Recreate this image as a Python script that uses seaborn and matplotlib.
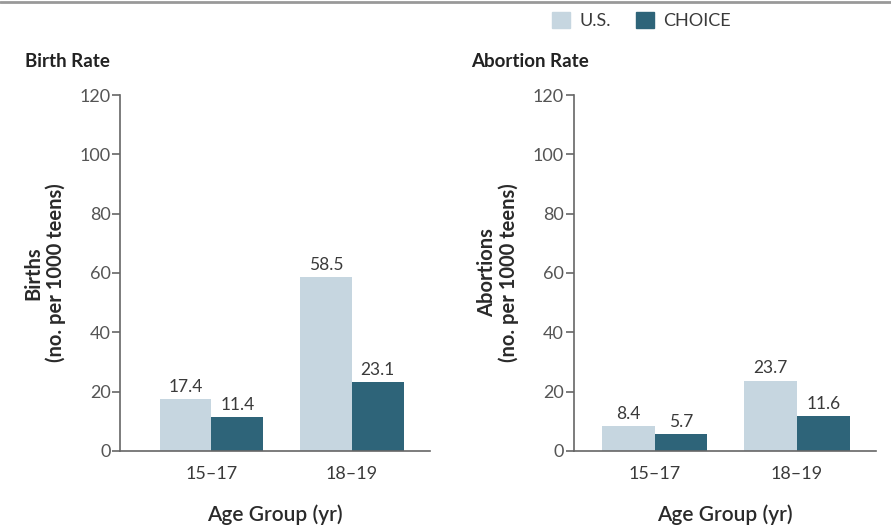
import pandas as pd
import matplotlib.pyplot as plt
import seaborn as sns

age_groups = ["15\u201317", "18\u201319"]
series = ["U.S.", "CHOICE"]
birth_us = [17.4, 58.5]
birth_choice = [11.4, 23.1]
abortion_us = [8.4, 23.7]
abortion_choice = [5.7, 11.6]

colors = {"U.S.": "#c6d6e0", "CHOICE": "#2e6479"}
text_color = "#3a3a3a"

sns.set_theme(style="white")
plt.rcParams["font.family"] = ["Lato", "DejaVu Sans"]


def make_df(us, choice):
    rows = []
    for g, u, c in zip(age_groups, us, choice):
        rows.append({"age": g, "group": "U.S.", "rate": u})
        rows.append({"age": g, "group": "CHOICE", "rate": c})
    return pd.DataFrame(rows)


fig = plt.figure(figsize=(8.91, 5.31), dpi=100)
ax1 = fig.add_axes([0.135, 0.151, 0.348, 0.670])
ax2 = fig.add_axes([0.644, 0.151, 0.339, 0.670])

panels = [
    (ax1, make_df(birth_us, birth_choice), "Birth Rate",
     "Births\n(no. per 1000 teens)", (-0.65, 1.56), 0.028),
    (ax2, make_df(abortion_us, abortion_choice), "Abortion Rate",
     "Abortions\n(no. per 1000 teens)", (-0.57, 1.555), 0.529),
]

for ax, df, title, ylabel, xlim, title_x in panels:
    sns.barplot(data=df, x="age", y="rate", hue="group", hue_order=series,
                palette=colors, width=0.74, ax=ax, legend=False,
                saturation=1, linewidth=0)
    for cont in ax.containers:
        ax.bar_label(cont, fmt="%.1f", padding=3, fontsize=12.5, color=text_color)
    ax.set_ylim(0, 120)
    ax.set_yticks(range(0, 121, 20))
    ax.set_xlim(*xlim)
    sns.despine(ax=ax)
    for s in ["left", "bottom"]:
        ax.spines[s].set_color("#666666")
        ax.spines[s].set_linewidth(1.2)
    ax.tick_params(axis="y", left=True, direction="out", length=6, width=1.2,
                   color="#666666", labelsize=13, labelcolor="#555555", pad=1)
    ax.tick_params(axis="x", bottom=False, labelsize=13, labelcolor=text_color, pad=5)
    ax.set_xlabel("Age Group (yr)", fontsize=15, fontweight="semibold",
                  color="#2a2a2a", labelpad=16)
    ax.set_ylabel(ylabel, fontsize=14.5, fontweight="bold", color="#2a2a2a",
                  linespacing=1.1, labelpad=10)
    fig.text(title_x, 0.885, title, fontsize=13.5, fontweight="bold",
             color="#222222", ha="left", va="center")

# legend at top
handles = [plt.Rectangle((0, 0), 1, 1, color=colors[s]) for s in series]
fig.legend(handles, series, loc="center", bbox_to_anchor=(0.72, 0.962), ncol=2,
           frameon=False, fontsize=13, handlelength=1.0, handleheight=1.0,
           columnspacing=1.4, handletextpad=0.5, labelcolor=text_color)

fig.add_artist(plt.Line2D([0, 1], [0.997, 0.997], color="#999999", lw=2,
                          transform=fig.transFigure))

fig.savefig("out.png", dpi=100)
